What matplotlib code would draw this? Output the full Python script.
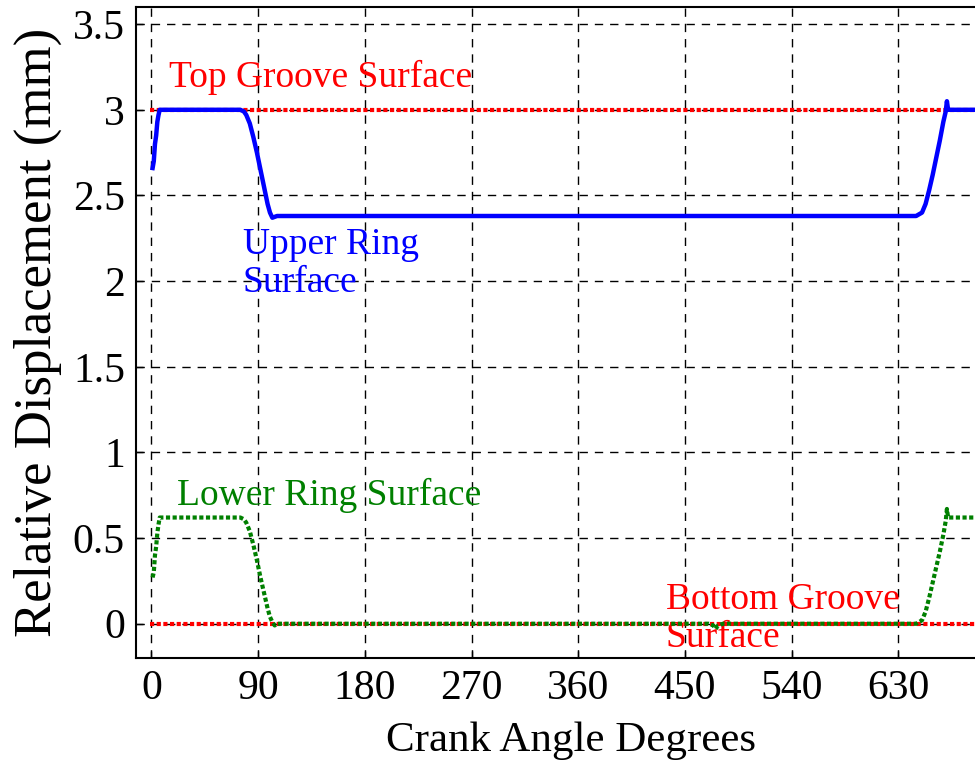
import matplotlib
matplotlib.use("Agg")
import matplotlib.pyplot as plt

plt.rcParams['font.family'] = ['Liberation Serif', 'DejaVu Serif']

# Upper ring surface (blue)
upper_x = [1, 2, 3, 4, 5, 6, 7, 20, 40, 60, 75, 78, 80, 83, 86, 89, 92, 95, 98, 100, 102,
           106, 120, 200, 300, 400, 500, 600, 645, 650, 653, 656, 659, 662, 665, 668, 670,
           671, 672, 673, 690, 720]
upper_y = [2.66, 2.70, 2.80, 2.85, 2.93, 2.97, 3.00, 3.00, 3.00, 3.00, 3.00, 2.99, 2.97, 2.92,
           2.84, 2.75, 2.65, 2.55, 2.45, 2.40, 2.37, 2.38, 2.38, 2.38, 2.38, 2.38, 2.38, 2.38,
           2.38, 2.40, 2.45, 2.53, 2.62, 2.72, 2.82, 2.93, 2.99, 3.05, 3.00, 3.00, 3.00, 3.00]

# Lower ring surface (green)
lower_x = [1, 2, 3, 4, 5, 6, 7, 20, 40, 60, 75, 78, 80, 83, 86, 89, 92, 95, 98, 100, 102,
           104, 106, 120, 200, 300, 400, 470, 474, 476, 478, 482, 600, 645, 650, 653, 656, 659,
           662, 665, 668, 670, 671, 672, 673, 690, 720]
lower_y = [0.27, 0.30, 0.40, 0.45, 0.53, 0.58, 0.62, 0.62, 0.62, 0.62, 0.62, 0.61, 0.59, 0.54,
           0.46, 0.37, 0.27, 0.18, 0.09, 0.04, 0.01, -0.01, 0.00, 0.00, 0.00, 0.00, 0.00, 0.00,
           -0.01, -0.03, -0.01, 0.00, 0.00, 0.00, 0.02, 0.07, 0.15, 0.24, 0.33, 0.42, 0.52,
           0.60, 0.67, 0.62, 0.62, 0.62, 0.62]

groove_x = [-1.5, 720]
top_groove = [3.0, 3.0]
bottom_groove = [0.0, 0.0]

xticks = [0, 90, 180, 270, 360, 450, 540, 630]
yticks = [0, 0.5, 1, 1.5, 2, 2.5, 3, 3.5]
ytick_labels = ['0', '0.5', '1', '1.5', '2', '2.5', '3', '3.5']

fig = plt.figure(figsize=(9.75, 7.62), dpi=100)
ax = fig.add_axes([136/975, 1-658/762, 869/975, 651/762])

ax.plot(groove_x, top_groove, color='red', lw=3, ls=(0, (1, 0.6)), zorder=3)
ax.plot(upper_x, upper_y, color='blue', lw=3.2, zorder=4)
ax.plot(groove_x, bottom_groove, color='red', lw=3, ls=(0, (1, 0.6)), zorder=3)
ax.plot(lower_x, lower_y, color='green', lw=3, ls=(0, (1, 0.6)), zorder=4)

ax.set_xlim(-13, 720)
ax.set_ylim(-0.2, 3.6)
ax.set_xticks(xticks)
ax.set_yticks(yticks)
ax.set_yticklabels(ytick_labels)
ax.tick_params(direction='in', labelsize=30, length=5, width=1, pad=8)
ax.grid(True, color='black', ls=(0, (6, 5)), lw=1)
for s in ax.spines.values():
    s.set_linewidth(1.5)

ax.set_xlabel('Crank Angle Degrees', fontsize=31, labelpad=10)
ax.set_ylabel('Relative Displacement (mm)', fontsize=38, labelpad=8)

ax.text(15, 3.19, 'Top Groove Surface', color='red', fontsize=27, va='center', ha='left')
ax.text(77, 2.1, 'Upper Ring\nSurface', color='blue', fontsize=27, va='center', ha='left',
        linespacing=1.15)
ax.text(22, 0.75, 'Lower Ring Surface', color='green', fontsize=27, va='center', ha='left')
ax.text(434, 0.03, 'Bottom Groove\nSurface', color='red', fontsize=27, va='center', ha='left',
        linespacing=1.15)

fig.savefig('out.png', dpi=100)
